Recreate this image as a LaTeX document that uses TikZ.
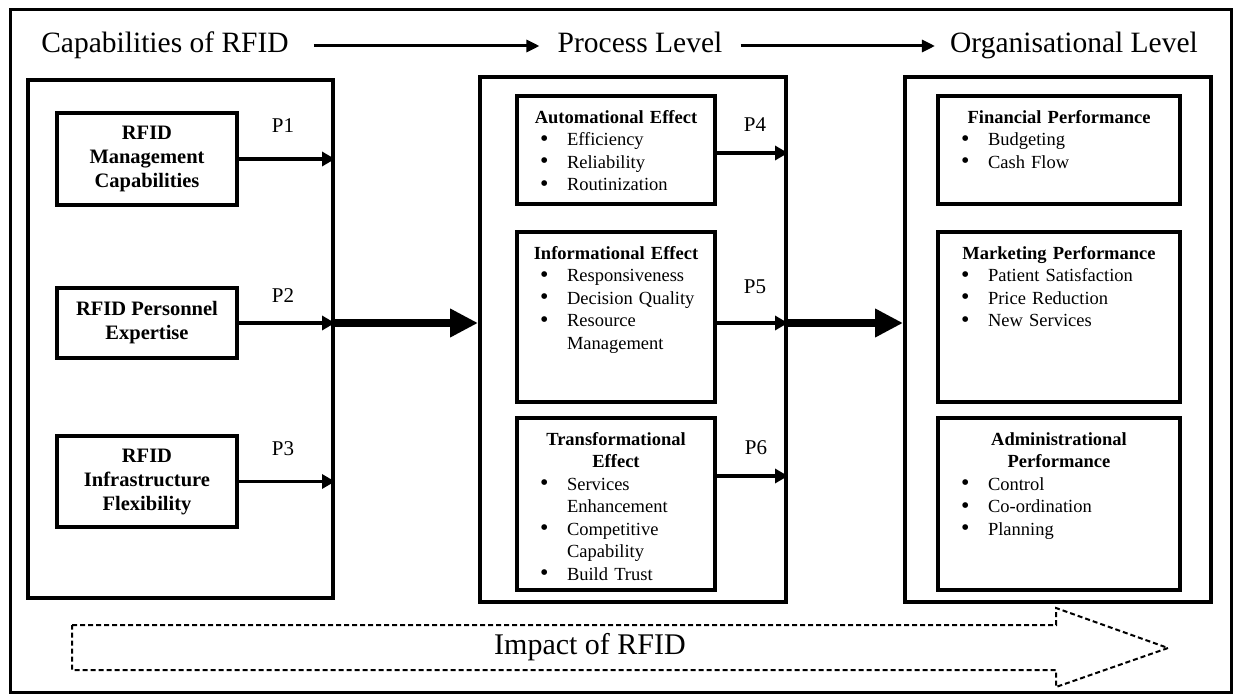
\documentclass[tikz,border=0pt]{standalone}
\usepackage{fontspec}
\setmainfont{Liberation Serif}
\usetikzlibrary{arrows.meta,fit}
\setlength{\parindent}{0pt}
\newcommand{\bul}[1]{\hspace*{13pt}\makebox[27pt][l]{\raisebox{-0.5pt}{\fontsize{24}{22.5}\selectfont\textbullet}}#1\par}
\newcommand{\cnt}[1]{\hspace*{40pt}#1\par}
\newcommand{\hd}[1]{{\centering\bfseries #1\par}}
\begin{document}
\begin{tikzpicture}[x=1pt,y=-1pt,
  box/.style={draw,line width=4pt,inner sep=0pt,rectangle},
  ibox/.style={draw,line width=4pt,inner sep=0pt,rectangle},
  ttl/.style={font=\fontsize{29.5}{32}\selectfont,inner sep=0pt,text height=20pt,text depth=6pt},
  plab/.style={font=\fontsize{21}{23}\selectfont,inner sep=0pt},
  lt/.style={font=\fontsize{20.5}{24}\selectfont\bfseries,align=center,inner sep=0pt},
  it/.style={font=\fontsize{18.5}{22.5}\selectfont,text width=#1,align=left,inner sep=0pt,anchor=north},
  arr/.style={line width=3.5pt,-{Triangle[length=13pt,width=14pt]}},
  tarr/.style={line width=3pt,-{Triangle[length=13pt,width=12pt]}},
  big/.style={line width=8pt,-{Triangle[length=28pt,width=27pt]}},
  dsh/.style={line width=2pt,dash pattern=on 5pt off 3pt}
]
\useasboundingbox (0,0) rectangle (1235,695);
\node[draw,line width=3pt,inner sep=0pt,fit={(10,10)(1231,692)}] (frame) {};

% titles
\node[ttl] (cap) at (165,46) {Capabilities of RFID};
\node[ttl] (proc) at (640,46) {Process Level};
\node[ttl] (org) at (1074,46) {Organisational Level};
\draw[tarr,shorten <=25pt,shorten >=18pt] (cap.east) -- (proc.west);
\draw[tarr,shorten <=18pt,shorten >=15pt] (proc.east) -- (org.west);

% big boxes
\node[box,fit={(28,80)(333,598)}] (L) {};
\node[box,fit={(480,77)(786,602)}] (M) {};
\node[box,fit={(905,77)(1211,602)}] (R) {};

% left inner boxes
\node[ibox,fit={(57,113)(237,205)}] (mc) {};
\node[lt] (mct) at (mc) {RFID\\Management\\Capabilities};
\node[ibox,fit={(57,288)(237,358)}] (pe) {};
\node[lt] (pet) at (pe) {RFID Personnel\\Expertise};
\node[ibox,fit={(57,436)(237,527)}] (inf) {};
\node[lt] (inft) at (inf) {RFID\\Infrastructure\\Flexibility};

\draw[arr] (mc.east) -- (mc.east -| L.east);
\draw[arr] (pe.east) -- (pe.east -| L.east);
\draw[arr] (inf.east) -- (inf.east -| L.east);
\node[plab] (p1) at (283,126) {P1};
\node[plab] (p2) at (283,296) {P2};
\node[plab] (p3) at (283,449) {P3};

% middle inner boxes
\node[ibox,fit={(517,96)(715,204)}] (ae) {};
\node[it=178pt] (aet) at ([yshift=-16pt]ae.north) {\hd{Automational Effect}\bul{Efficiency}\bul{Reliability}\bul{Routinization}};
\node[ibox,fit={(517,232)(715,402)}] (ie) {};
\node[it=178pt] (iet) at ([yshift=-16pt]ie.north) {\hd{Informational Effect}\bul{Responsiveness}\bul{Decision Quality}\bul{Resource}\cnt{Management}};
\node[ibox,fit={(517,418)(715,590)}] (te) {};
\node[it=178pt] (tet) at ([yshift=-16pt]te.north) {\hd{Transformational}\hd{Effect}\bul{Services}\cnt{Enhancement}\bul{Competitive}\cnt{Capability}\bul{Build Trust}};

\coordinate (y4) at (0,153);
\coordinate (y5) at (0,323);
\coordinate (y6) at (0,476);
\draw[arr] (ae.east |- y4) -- (M.east |- y4);
\draw[arr] (ie.east |- y5) -- (M.east |- y5);
\draw[arr] (te.east |- y6) -- (M.east |- y6);
\node[plab] (p4) at (755,125) {P4};
\node[plab] (p5) at (755,287) {P5};
\node[plab] (p6) at (756,448) {P6};

% right inner boxes
\node[ibox,fit={(938,96)(1180,204)}] (fp) {};
\node[it=222pt] (fpt) at ([yshift=-16pt]fp.north) {\hd{Financial Performance}\bul{Budgeting}\bul{Cash Flow}};
\node[ibox,fit={(938,232)(1180,402)}] (mp) {};
\node[it=222pt] (mpt) at ([yshift=-16pt]mp.north) {\hd{Marketing Performance}\bul{Patient Satisfaction}\bul{Price Reduction}\bul{New Services}};
\node[ibox,fit={(938,418)(1180,590)}] (ap) {};
\node[it=222pt] (apt) at ([yshift=-16pt]ap.north) {\hd{Administrational}\hd{Performance}\bul{Control}\bul{Co-ordination}\bul{Planning}};

% thick arrows
\draw[big] (L.east |- pe.east) -- (M.west |- pe.east);
\draw[big] (M.east |- pe.east) -- (R.west |- pe.east);

% dashed block arrow
\draw[dsh] (72,625) -- (1056,625) -- (1056,608) -- (1168,648) -- (1056,687) -- (1056,670) -- (72,670) -- cycle;
\node[font=\fontsize{30}{34}\selectfont,inner sep=0pt] (imp) at (590,647) {Impact of RFID};
\end{tikzpicture}
\end{document}
